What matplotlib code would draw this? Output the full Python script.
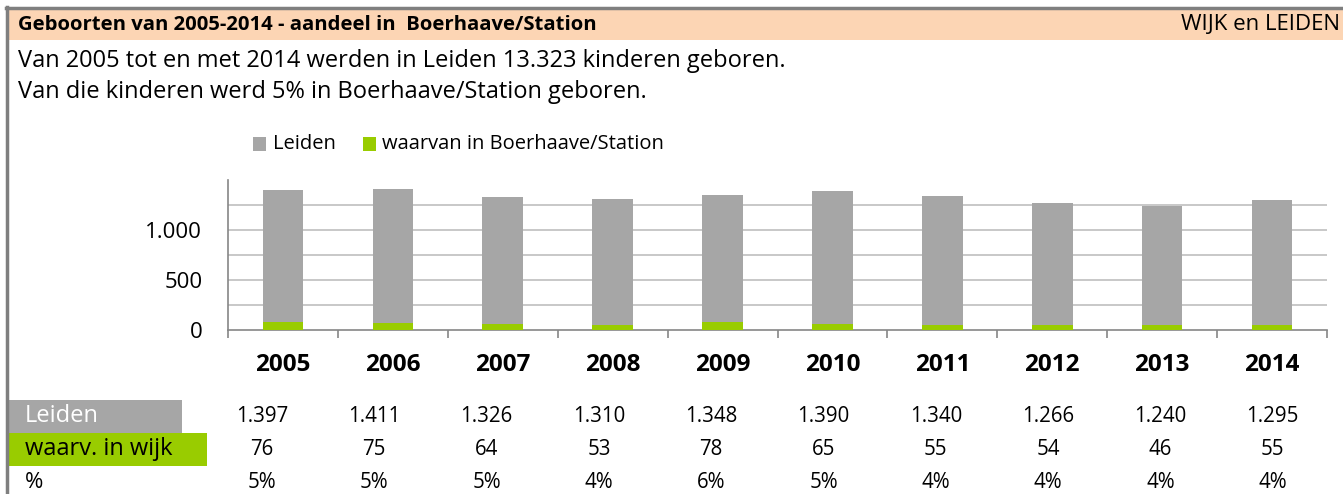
import matplotlib
matplotlib.use("Agg")
import matplotlib.pyplot as plt
from matplotlib.patches import Rectangle
from matplotlib.lines import Line2D
import numpy as np

years = ["2005", "2006", "2007", "2008", "2009", "2010", "2011", "2012", "2013", "2014"]
leiden = [1397, 1411, 1326, 1310, 1348, 1390, 1340, 1266, 1240, 1295]
wijk = [76, 75, 64, 53, 78, 65, 55, 54, 46, 55]
pct = ["5%", "5%", "5%", "4%", "6%", "5%", "4%", "4%", "4%", "4%"]

title = "Geboorten van 2005-2014 - aandeel in  Boerhaave/Station"
right_title = "WIJK en LEIDEN"
line1 = "Van 2005 tot en met 2014 werden in Leiden 13.323 kinderen geboren."
line2 = "Van die kinderen werd 5% in Boerhaave/Station geboren."

GRAY = "#A6A6A6"
GREEN = "#99CC00"
PEACH = "#FCD5B4"
BORDER = "#7F7F7F"
FONT = ["Open Sans", "DejaVu Sans"]

W, H = 1343, 494
fig = plt.figure(figsize=(W / 100, H / 100), dpi=100)
plt.rcParams['font.family'] = FONT

def fx(x):
    return x / W

def fy(y):
    return 1 - y / H

# header band and borders
fig.patches.append(Rectangle((fx(8), fy(40)), fx(W - 8), (40 - 9) / H,
                             transform=fig.transFigure, facecolor=PEACH, edgecolor="none", zorder=0))
fig.add_artist(Line2D([fx(6), fx(W)], [fy(8), fy(8)], transform=fig.transFigure, color=BORDER, lw=2.5))
fig.add_artist(Line2D([fx(7), fx(7)], [fy(7), fy(H)], transform=fig.transFigure, color=BORDER, lw=2.5))

fig.text(fx(18), fy(25), title, fontsize=14.6, fontweight="bold", va="center", ha="left")
fig.text(fx(1340), fy(25), right_title, fontsize=16, va="center", ha="right")
fig.text(fx(18), fy(61), line1, fontsize=17, va="center", ha="left")
fig.text(fx(18), fy(92), line2, fontsize=17, va="center", ha="left")

# legend
fig.patches.append(Rectangle((fx(253), fy(151)), 13 / W, 14 / H, transform=fig.transFigure,
                             facecolor=GRAY, edgecolor="none"))
fig.text(fx(273), fy(144), "Leiden", fontsize=14.5, va="center", ha="left")
fig.patches.append(Rectangle((fx(363), fy(151)), 13 / W, 14 / H, transform=fig.transFigure,
                             facecolor=GREEN, edgecolor="none"))
fig.text(fx(382), fy(144), "waarvan in Boerhaave/Station", fontsize=14.5, va="center", ha="left")

# chart axes
ax = fig.add_axes([fx(228), fy(330), (1327 - 228) / W, 150 / H])
x = np.arange(len(years))
ax.bar(x, leiden, width=0.37, color=GRAY, zorder=2)
ax.bar(x, wijk, width=0.37, color=GREEN, zorder=3)
ax.set_xlim(-0.5, len(years) - 0.5)
ax.set_ylim(0, 1500)
ax.set_yticks([0, 500, 1000])
ax.set_yticklabels(["0", "500", "1.000"], fontsize=16)
for g in [250, 500, 750, 1000, 1250]:
    ax.axhline(g, color="#BFBFBF", lw=1.2, zorder=1)
ax.tick_params(axis="y", length=0, pad=18.5)
ax.set_xticks(np.arange(-0.5, len(years), 1.0))
ax.set_xticklabels([])
ax.tick_params(axis="x", length=6, color="#868686", width=1.2, direction="out")
for i, yv in enumerate(years):
    ax.text(i, -0.233, yv, transform=ax.get_xaxis_transform(), ha="center", va="center",
            fontsize=17.5, fontweight="bold")
for s in ["top", "right"]:
    ax.spines[s].set_visible(False)
ax.spines["left"].set_color("#868686")
ax.spines["bottom"].set_color("#868686")
ax.spines["left"].set_linewidth(1.2)
ax.spines["bottom"].set_linewidth(1.2)

# data table
fig.patches.append(Rectangle((fx(8), fy(433)), (182 - 8) / W, 33 / H, transform=fig.transFigure,
                             facecolor=GRAY, edgecolor="none"))
fig.patches.append(Rectangle((fx(8), fy(466)), (207 - 8) / W, 33 / H, transform=fig.transFigure,
                             facecolor=GREEN, edgecolor="none"))
fig.text(fx(25), fy(416), "Leiden", fontsize=17, color="white", va="center", ha="left")
fig.text(fx(25), fy(449), "waarv. in wijk", fontsize=17, color="black", va="center", ha="left")
fig.text(fx(25), fy(482), "%", fontsize=16, color="black", va="center", ha="left")

for i in range(len(years)):
    cx = 262 + i * 112.3
    fig.text(fx(cx), fy(416), f"{leiden[i]:,}".replace(",", "."), fontsize=14.8, ha="center", va="center")
    fig.text(fx(cx), fy(449), str(wijk[i]), fontsize=14.8, ha="center", va="center")
    fig.text(fx(cx), fy(482), pct[i], fontsize=14.8, ha="center", va="center")

fig.savefig("out.png", dpi=100)
